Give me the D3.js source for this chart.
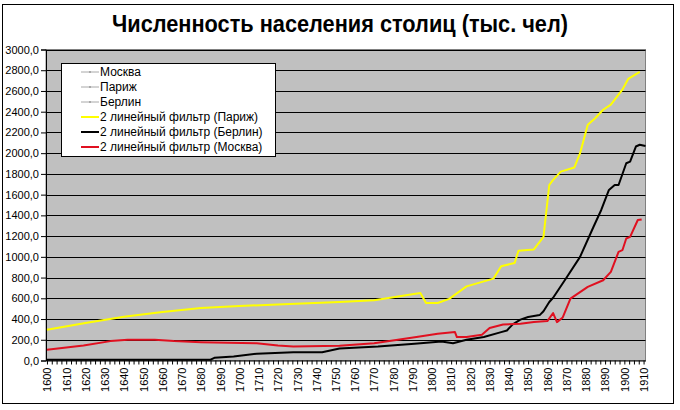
<!DOCTYPE html>
<html lang="ru">
<head>
<meta charset="utf-8">
<title>Численность населения столиц</title>
<script src="https://d3js.org/d3.v7.min.js"></script>
<style type="text/css">
  body { margin: 0; background: #fff; }
  svg { font-family: "Liberation Sans", Arial, sans-serif; }
  .title { font-family: "Liberation Sans Narrow", "Arial Narrow", "Liberation Sans", Arial, sans-serif; font-weight: bold; }
</style>
</head>
<body>

<svg width="680" height="410" id="chart"></svg>

<script>
  // Париж, 2 линейный фильтр
  var parisYears  = [1600,1620,1640,1660,1680,1700,1723,1752,1770,1780,1794,1797,1803,1809,1818,1832,1836,1843,1845,1853,1858,1861,1863,1867,1874,1877,1881,1885,1889,1893,1899,1902,1908];
  var parisValues = [297,361,422,467,506,526,542,564,581,610,651,555,555,595,715,790,910,940,1058,1071,1193,1693,1742,1822,1861,2000,2274,2339,2419,2468,2613,2716,2784];

  // Берлин, 2 линейный фильтр
  var berlinYears  = [1600,1685,1687,1697,1709,1728,1743,1752,1772,1791,1805,1811,1818,1827,1836,1839,1842,1846,1850,1856,1858,1861,1863,1870,1877,1884,1888,1892,1895,1897,1901,1903,1906,1908,1911];
  var berlinValues = [8,8,26,39,65,80,80,116,135,161,184,167,200,226,274,290,348,394,419,438,475,564,605,800,1000,1290,1452,1645,1693,1693,1903,1919,2064,2081,2070];

  // Москва, 2 линейный фильтр
  var moscowYears  = [1600,1619,1633,1642,1656,1666,1680,1694,1709,1720,1728,1752,1770,1792,1803,1812,1813,1818,1826,1830,1837,1846,1853,1860,1863,1865,1868,1872,1881,1889,1893,1897,1899,1901,1903,1907,1909];
  var moscowValues = [103,145,187,200,200,187,177,171,167,145,135,142,167,226,258,274,226,226,248,313,348,355,371,380,458,370,415,597,710,774,855,1048,1064,1177,1193,1355,1361];

  var yTicks = d3.range(0, 3001, 200);
  var xTicks = d3.range(1600, 1911, 2.5);

  var legendNames = ["Москва", "Париж", "Берлин",
    "2 линейный фильтр (Париж)", "2 линейный фильтр (Берлин)", "2 линейный фильтр (Москва)"];
  var legendColors = ["#a8a8a8", "#a8a8a8", "#a8a8a8", "#ffff00", "#000000", "#e01020"];

  var svg = d3.select("#chart");

  // outer chart border
  svg.append("rect").attr("x", 2.5).attr("y", 4.5).attr("width", 671).attr("height", 399)
    .attr("fill", "#fff").attr("stroke", "#000").attr("stroke-width", 1);

  svg.append("text").attr("class", "title")
    .attr("x", 340).attr("y", 32).attr("text-anchor", "middle")
    .attr("font-size", 23).attr("textLength", 456).attr("lengthAdjust", "spacingAndGlyphs")
    .text("Численность населения столиц (тыс. чел)");

  var margin = {top: 49.5, left: 46, right: 645.5, bottom: 360.5};
  var xScale = d3.scaleLinear().domain([1599.5, 1911]).range([margin.left, margin.right]);
  var yScale = d3.scaleLinear().domain([0, 3000]).range([margin.bottom, margin.top]);

  // plot area
  svg.append("rect").attr("x", margin.left).attr("y", margin.top)
    .attr("width", margin.right - margin.left).attr("height", margin.bottom - margin.top)
    .attr("fill", "#c0c0c0").attr("stroke", "#808080").attr("stroke-width", 1);

  // gridlines
  svg.append("g").selectAll("line").data(yTicks.filter(function(d){ return d > 0; })).enter().append("line")
    .attr("x1", margin.left).attr("x2", margin.right)
    .attr("y1", function(d){ return Math.round(yScale(d)) + 0.5; })
    .attr("y2", function(d){ return Math.round(yScale(d)) + 0.5; })
    .attr("stroke", "#000").attr("stroke-width", 1);

  var yAxis = d3.axisLeft(yScale).tickValues(yTicks).tickSize(5).tickPadding(2)
    .tickFormat(function(d){ return d.toFixed(1).replace(".", ","); });
  var gy = svg.append("g").attr("transform", "translate(" + margin.left + ",0)").call(yAxis);
  gy.select(".domain").attr("stroke", "#000");
  gy.selectAll("text").attr("font-size", 11).attr("fill", "#000")
    .attr("font-family", "'Liberation Sans', Arial, sans-serif");

  var xAxis = d3.axisBottom(xScale).tickValues(xTicks).tickSize(4).tickSizeOuter(0)
    .tickFormat(function(d){ return d % 10 === 0 ? d : ""; });
  var gx = svg.append("g").attr("transform", "translate(0," + margin.bottom + ")").call(xAxis);
  gx.select(".domain").attr("stroke", "#000");
  gx.selectAll("text").attr("font-size", 11).attr("fill", "#000")
    .attr("font-family", "'Liberation Sans', Arial, sans-serif")
    .attr("text-anchor", "end").attr("transform", "rotate(-90)")
    .attr("x", -7).attr("y", 0).attr("dy", "0.35em");

  var line = d3.line()
    .x(function(d){ return xScale(d[0]); })
    .y(function(d){ return yScale(d[1]); });

  var series = [
    {years: parisYears, values: parisValues, color: "#ffff00"},
    {years: berlinYears, values: berlinValues, color: "#000000"},
    {years: moscowYears, values: moscowValues, color: "#e01020"}
  ];
  series.forEach(function(s){
    svg.append("path").datum(d3.zip(s.years, s.values))
      .attr("d", line).attr("fill", "none")
      .attr("stroke", s.color).attr("stroke-width", 2).attr("stroke-linejoin", "round");
  });

  // legend
  var lg = svg.append("g");
  lg.append("rect").attr("x", 61.5).attr("y", 63.5).attr("width", 214).attr("height", 93)
    .attr("fill", "#fff").attr("stroke", "#000");
  legendNames.forEach(function(name, i){
    var y = 72 + i * 15;
    lg.append("line").attr("x1", 81).attr("x2", 99).attr("y1", y).attr("y2", y)
      .attr("stroke", legendColors[i]).attr("stroke-width", i < 3 ? 1 : 2);
    if (i < 3) {
      lg.append("rect").attr("x", 89).attr("y", y - 1).attr("width", 2).attr("height", 2).attr("fill", "#a8a8a8");
    }
    lg.append("text").attr("x", 100).attr("y", y).attr("dy", "0.35em")
      .attr("font-size", 12).attr("fill", "#000").text(name);
  });
</script>

</body>
</html>
